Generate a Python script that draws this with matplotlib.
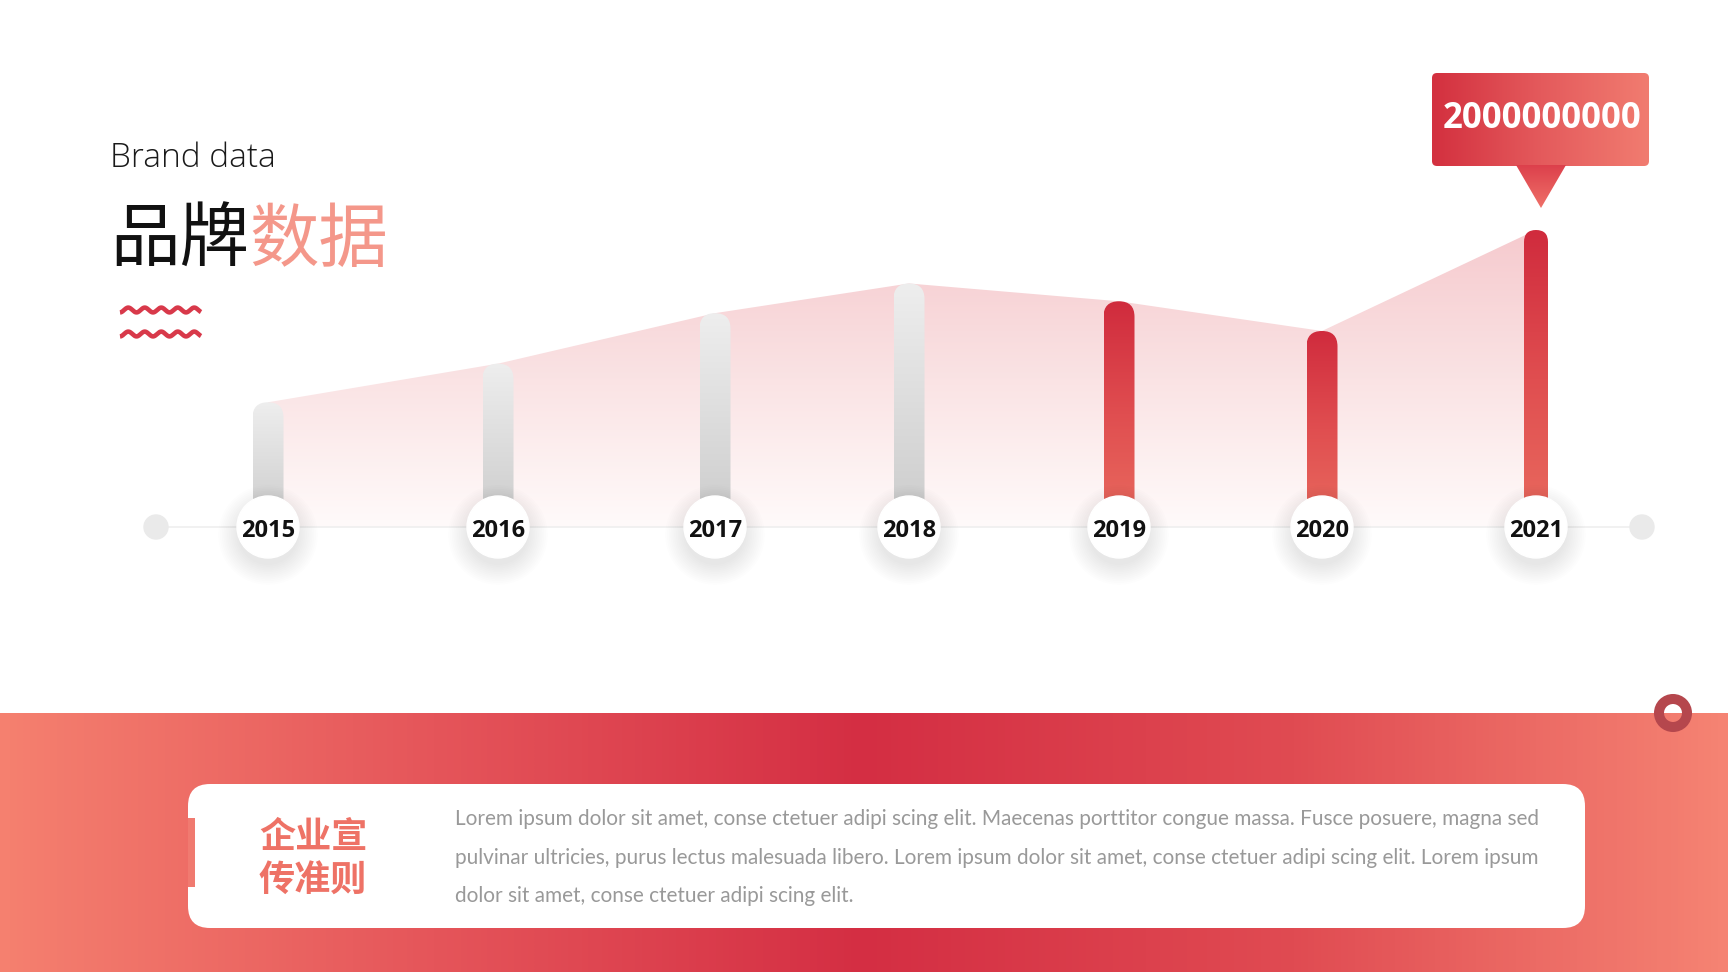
import numpy as np
import matplotlib.pyplot as plt
from matplotlib.patches import FancyBboxPatch, Circle, Polygon, Rectangle
from matplotlib.colors import LinearSegmentedColormap

plt.rcParams['font.family'] = ['Noto Sans CJK SC', 'DejaVu Sans']

# --- data ---
years = ['2015', '2016', '2017', '2018', '2019', '2020', '2021']
values = [8.4, 11.0, 14.4, 16.4, 15.2, 13.2, 20.0]   # 亿
highlight = [False, False, False, False, True, True, True]
peak_label = '2000000000'
title_en = 'Brand data'
title_cn_dark = '品牌'
title_cn_light = '数据'
card_title = ['企业宣', '传准则']
card_lines = [
    'Lorem ipsum dolor sit amet, conse ctetuer adipi scing elit. Maecenas porttitor congue massa. Fusce posuere, magna sed',
    'pulvinar ultricies, purus lectus malesuada libero. Lorem ipsum dolor sit amet, conse ctetuer adipi scing elit. Lorem ipsum',
    'dolor sit amet, conse ctetuer adipi scing elit.',
]

# --- layout (pixel space, y grows downward) ---
W, H = 1728, 972
x_pos = [268, 498, 715, 909, 1119, 1322, 1536]
base_y = 527
px_per_unit = 14.85

fig = plt.figure(figsize=(W / 100, H / 100), dpi=100)
ax = fig.add_axes([0, 0, 1, 1])
ax.set_xlim(0, W)
ax.set_ylim(H, 0)
ax.axis('off')


def gradient(extent, colors, vertical=True, clip=None, z=1):
    """Fill extent with a linear gradient; colors[0] is top / left."""
    cmap = LinearSegmentedColormap.from_list('g', colors)
    g = np.linspace(0, 1, 256)
    arr = g[:, None] if vertical else g[None, :]
    im = ax.imshow(arr, cmap=cmap, extent=extent, origin='upper',
                   aspect='auto', zorder=z, interpolation='bilinear')
    if clip is not None:
        clip.set_transform(ax.transData)
        im.set_clip_path(clip)
    return im


def rounded(x0, y0, x1, y1, r):
    return FancyBboxPatch((x0 + r, y0 + r), x1 - x0 - 2 * r, y1 - y0 - 2 * r,
                          boxstyle=f'round,pad={r}', transform=ax.transData)


tops = [base_y - v * px_per_unit for v in values]

# area under the bar tops
pts = [(x_pos[0], base_y)] + list(zip(x_pos, tops)) + [(x_pos[-1], base_y)]
area = Polygon(pts, closed=True)
gradient((x_pos[0], x_pos[-1], base_y, min(tops)),
         ['#F6CACE', '#FAE3E4', '#FFFAFA'], clip=area, z=1)

# timeline
ax.plot([156, 1642], [base_y, base_y], color='#EFEFEF', lw=1.2, zorder=2)
for xe in (156, 1642):
    ax.add_patch(Circle((xe, base_y), 12, color='#EAEAEA', zorder=2))

# bars
for x, t, hl in zip(x_pos, tops, highlight):
    w = 24 if t == min(tops) else 31
    bar = rounded(x - w / 2, t, x + w / 2, base_y, w / 2)
    cols = ['#D02B3D', '#E04E50', '#E96B5F'] if hl else ['#EEEEEE', '#CBCBCB']
    gradient((x - w / 2, x + w / 2, base_y, t), cols, clip=bar, z=3)

# year circles with soft shadow
for x, yr in zip(x_pos, years):
    for k in range(12):
        ax.add_patch(Circle((x, base_y + 8), 30 + k * 1.8, color='black',
                            alpha=0.009, lw=0, zorder=4))
    ax.add_patch(Circle((x, base_y), 31, color='white', zorder=5))
    ax.text(x, base_y + 4, yr, ha='center', va='center', fontsize=17,
            fontweight='bold', color='#111111', zorder=6,
            family=['Open Sans', 'DejaVu Sans'])

# callout for the peak value
box = rounded(1432, 73, 1649, 166, 5)
gradient((1432, 1649, 166, 73), ['#D3303F', '#E45A5C', '#F17C70'],
         vertical=False, clip=box, z=3)
tri = Polygon([(1516, 165), (1566, 165), (1541, 208)], closed=True)
gradient((1516, 1566, 208, 165), ['#DC3F4B', '#EF7169'], clip=tri, z=3)
ax.text(1542, 119, peak_label, ha='center', va='center', fontsize=25,
        fontweight='bold', color='white', zorder=6,
        family=['Open Sans', 'DejaVu Sans'])

# titles
ax.text(110, 158, title_en, ha='left', va='center', fontsize=24,
        color='#1A1A1A', fontweight='light',
        family=['Open Sans', 'Lato', 'DejaVu Sans'])
t1 = ax.text(110, 241, title_cn_dark, ha='left', va='center', fontsize=50,
             color='#111111', fontweight='light')
ax.annotate(title_cn_light, xy=(1, 0.5), xycoords=t1, ha='left', va='center',
            fontsize=50, color='#F4978A', fontweight='light')

# wavy decoration
wx = np.linspace(120, 201, 300)
for y0 in (310, 334):
    ax.plot(wx, y0 + 2.4 * np.sin(2 * np.pi * (wx - 120) / 16.5 + np.pi / 2),
            color='#D8394A', lw=3.3, solid_capstyle='butt', zorder=3)

# bottom band
band = Rectangle((0, 713), W, H - 713, transform=ax.transData)
gradient((0, W, H, 713), ['#F5806F', '#E5555A', '#D42E43', '#E04B52', '#F58373'],
         vertical=False, clip=band, z=1)

# ring marker
ax.add_patch(Circle((1673, 713), 14, fill=False, ec='#B5474D', lw=7.2, zorder=4))

# white card
card = FancyBboxPatch((188 + 22, 784 + 22), 1397 - 44, 144 - 44,
                      boxstyle='round,pad=22', fc='white', ec='none', zorder=3)
ax.add_patch(card)
ax.add_patch(Rectangle((188, 818), 7, 69, fc='#F07A70', ec='none', zorder=4))

for i, line in enumerate(card_title):
    ax.text(313, 837 + i * 44, line, ha='center', va='center', fontsize=26,
            fontweight='bold', color='#EE7266', zorder=5)

body = []
for i, line in enumerate(card_lines):
    body.append(ax.text(455, 819 + i * 38.5, line, ha='left', va='center',
                        fontsize=13.5, color='#999999', fontweight='normal',
                        zorder=5, family=['Lato', 'DejaVu Sans']))

# fit body text width to the card
fig.canvas.draw()
r = fig.canvas.get_renderer()
wid = body[0].get_window_extent(r).width
for t in body:
    t.set_fontsize(13.5 * 1082 / wid)

ax.set_xlim(0, W)
ax.set_ylim(H, 0)
fig.savefig('out.png', dpi=100)
